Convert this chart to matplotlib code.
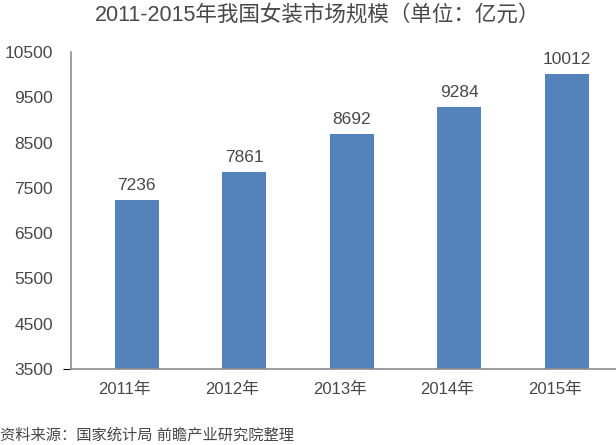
import numpy as np
import matplotlib.pyplot as plt

plt.rcParams['font.family'] = ['Liberation Sans', 'Noto Sans CJK SC', 'DejaVu Sans']

# data
years = ['2011年', '2012年', '2013年', '2014年', '2015年']
sales = [7236, 7861, 8692, 9284, 10012]
yticks = [3500, 4500, 5500, 6500, 7500, 8500, 9500, 10500]

text_color = '#484848'
bar_color = '#5482BA'

fig = plt.figure(figsize=(6.16, 4.45), dpi=100)
ax = fig.add_axes([71 / 616, 76 / 445, 545 / 616, 317 / 445])

x = np.arange(len(years))
bars = ax.bar(x + 0.11, sales, width=0.41, color=bar_color)
ax.bar_label(bars, labels=[str(v) for v in sales], padding=5,
             fontsize=12.5, color=text_color)

ax.set_xlim(-0.5, -0.5 + 545 / 107.5)
ax.set_ylim(3500, 10500)
ax.set_yticks(yticks)
ax.set_yticklabels([str(v) for v in yticks])
ax.set_xticks(x)
ax.set_xticklabels(years)

ax.tick_params(axis='y', length=0, pad=13, labelsize=12.5, labelcolor=text_color)
ax.tick_params(axis='x', length=0, pad=9, labelsize=12, labelcolor=text_color)
t0 = ax.yaxis.get_major_ticks()[0]
t0.tick1line.set_markersize(6)
t0.tick1line.set_color('#8c8c8c')

for s in ['top', 'right']:
    ax.spines[s].set_visible(False)
for s in ['left', 'bottom']:
    ax.spines[s].set_color('#8c8c8c')
    ax.spines[s].set_linewidth(1.2)

fig.text(318 / 616, 1 - 15 / 445, '2011-2015年我国女装市场规模（单位：亿元）',
         ha='center', va='center', fontsize=15.5, color=text_color)
fig.text(0.0, 1 - 435 / 445, '资料来源：国家统计局 前瞻产业研究院整理',
         ha='left', va='center', fontsize=11, color=text_color)

fig.savefig('out.png', dpi=100)
